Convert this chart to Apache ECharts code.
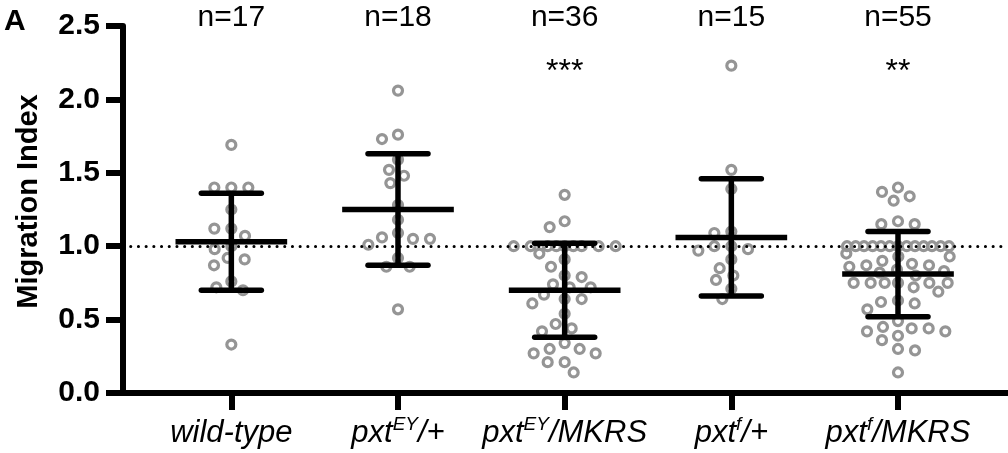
<!DOCTYPE html>
<html>
<head>
<meta charset="utf-8">
<title>Migration Index</title>
<script src="https://cdn.jsdelivr.net/npm/echarts@6/dist/echarts.min.js"></script>
<style>
  html, body { margin: 0; padding: 0; background: #fff; }
  #main { width: 1008px; height: 453px; }
</style>
</head>
<body>
<div id="main"></div>
<script>
// group names, "^" marks the superscript part
var categories = ['wild-type', 'pxt^EY/+', 'pxt^EY/MKRS', 'pxt^f/+', 'pxt^f/MKRS'];
var nLabels = ['n=17', 'n=18', 'n=36', 'n=15', 'n=55'];
var stars = ['', '', '***', '', '**'];
var yTicks = [0, 0.5, 1.0, 1.5, 2.0, 2.5];

// individual migration index values
var wildType = [1.69, 1.40, 1.40, 1.40, 1.25, 1.12, 1.12, 1.07, 1.00, 0.98, 0.92, 0.91, 0.87, 0.76, 0.72, 0.70, 0.33];
var pxtEYPlus = [2.06, 1.76, 1.73, 1.59, 1.52, 1.48, 1.43, 1.28, 1.18, 1.09, 1.06, 1.05, 1.05, 1.01, 0.92, 0.86, 0.86, 0.57];
var pxtEYMKRS = [1.35, 1.17, 1.13, 1.00, 1.00, 1.00, 1.00, 1.00, 1.00, 1.00, 1.00, 1.00,
  0.95, 0.91, 0.86, 0.80, 0.79, 0.74, 0.72, 0.72, 0.67, 0.64, 0.64, 0.61, 0.54, 0.47,
  0.44, 0.42, 0.34, 0.30, 0.30, 0.27, 0.27, 0.21, 0.21, 0.14];
var pxtfPlus = [2.23, 1.52, 1.39, 1.10, 1.09, 1.00, 1.00, 0.98, 0.97, 0.91, 0.85, 0.80, 0.77, 0.71, 0.64];
var pxtfMKRS = [1.40, 1.37, 1.34, 1.31, 1.17, 1.15, 1.15,
  1.00, 1.00, 1.00, 1.00, 1.00, 1.00, 1.00, 1.00, 1.00, 1.00, 1.00, 1.00, 1.00,
  0.95, 0.93, 0.93, 0.90, 0.88, 0.87, 0.87, 0.86, 0.84, 0.83, 0.82, 0.80,
  0.75, 0.75, 0.75, 0.75, 0.75, 0.75, 0.72, 0.69, 0.63, 0.62, 0.61, 0.57,
  0.49, 0.45, 0.44, 0.44, 0.42, 0.42, 0.39, 0.36, 0.30, 0.29, 0.14];

// mean and SD bars as drawn
var means = [1.03, 1.25, 0.70, 1.06, 0.81];
var sds = [0.33, 0.38, 0.32, 0.40, 0.29];

var groups = [wildType, pxtEYPlus, pxtEYMKRS, pxtfPlus, pxtfMKRS];

var FONT = '"Liberation Sans", Arial, Helvetica, sans-serif';
var GREY = '#959595';

// beeswarm spread (x in category units, y in value units)
var SPREAD_X = 0.102;
var SPREAD_Y = 0.082;
var MAX_HALF = 0.31;
var STEP = 0.002;

/**
 * place the points of one column side by side, nearest to the centre first
 */
function swarm(values, center) {
  var order = values.map(function (v, i) { return i; });
  order.sort(function (a, b) { return values[b] - values[a]; });
  var placed = [];
  var steps = Math.round(MAX_HALF / STEP);
  order.forEach(function (idx) {
    var v = values[idx];
    var best = 0, bestCost = Infinity;
    for (var k = 0; k <= 2 * steps; k++) {
      var off = (k % 2 ? -1 : 1) * Math.ceil(k / 2) * STEP;
      var cost = 0;
      for (var j = 0; j < placed.length; j++) {
        var dx = (off - placed[j][0]) / SPREAD_X;
        var dy = (v - placed[j][1]) / SPREAD_Y;
        var r = Math.sqrt(dx * dx + dy * dy);
        if (r < 0.999) cost += (1 - r) * (1 - r);
      }
      if (cost < bestCost - 1e-9) { bestCost = cost; best = off; }
      if (cost === 0) break;
    }
    placed.push([best, v]);
  });
  return placed.map(function (p) { return [center + p[0], p[1]]; });
}

var points = [];
groups.forEach(function (g, i) {
  points = points.concat(swarm(g, i + 1));
});

var barData = means.map(function (m, i) { return [i + 1, m, sds[i]]; });

function catLabel(v) {
  var s = categories[Math.round(v) - 1];
  if (!s) return '';
  var parts = s.split(/\^(\w+)/);
  return parts.map(function (p, i) {
    if (!p) return '';
    return '{' + (i % 2 ? 'sup' : 'it') + '|' + p + '}';
  }).join('');
}

function line(x1, y1, x2, y2, cap) {
  return {
    type: 'line',
    shape: { x1: x1, y1: y1, x2: x2, y2: y2 },
    style: { stroke: '#000', lineWidth: 5.5, lineCap: cap || 'butt' }
  };
}

var chart = echarts.init(document.getElementById('main'), null, { renderer: 'canvas' });

var option = {
  animation: false,
  backgroundColor: '#fff',
  textStyle: { fontFamily: FONT },
  grid: { left: 123, right: 0, top: 26, bottom: 60, containLabel: false },
  graphic: [{
    type: 'text',
    left: 4,
    top: 7,
    style: { text: 'A', fontSize: 30, fontWeight: 'bold', fontFamily: FONT, fill: '#000' }
  }],
  xAxis: {
    type: 'value',
    min: 0.35,
    max: 5.66,
    splitLine: { show: false },
    axisLine: { show: true, onZero: false, lineStyle: { color: '#000', width: 6 } },
    axisTick: { show: true, length: 17, customValues: [1, 2, 3, 4, 5], lineStyle: { color: '#000', width: 6 } },
    axisLabel: {
      customValues: [1, 2, 3, 4, 5],
      margin: 22,
      formatter: catLabel,
      rich: {
        it: { fontSize: 31, fontStyle: 'italic', fontFamily: FONT, color: '#000', lineHeight: 36 },
        sup: { fontSize: 19, fontStyle: 'italic', fontFamily: FONT, color: '#000', lineHeight: 20, verticalAlign: 'top' }
      }
    }
  },
  yAxis: {
    type: 'value',
    min: yTicks[0],
    max: yTicks[yTicks.length - 1],
    interval: yTicks[1] - yTicks[0],
    name: 'Migration Index',
    nameLocation: 'middle',
    nameGap: 80,
    nameTextStyle: { fontSize: 29, fontWeight: 'bold', fontFamily: FONT, color: '#000', padding: [0, 0, 0, 16] },
    splitLine: { show: false },
    axisLine: { show: true, lineStyle: { color: '#000', width: 6 } },
    axisTick: { show: true, length: 17, lineStyle: { color: '#000', width: 6 } },
    axisLabel: {
      margin: 23,
      fontSize: 30,
      fontWeight: 'bold',
      fontFamily: FONT,
      color: '#000',
      formatter: function (v) { return v.toFixed(1); }
    }
  },
  series: [
    {
      name: 'points',
      type: 'scatter',
      data: points,
      symbol: 'circle',
      symbolSize: 9,
      itemStyle: { color: 'rgba(0,0,0,0)', borderColor: GREY, borderWidth: 3.2, opacity: 1 },
      emphasis: { disabled: true },
      silent: true,
      z: 2,
      markLine: {
        silent: true,
        symbol: 'none',
        label: { show: false },
        lineStyle: { color: '#000', width: 3, type: [0.1, 7.6], cap: 'round' },
        data: [{ yAxis: 1 }]
      }
    },
    {
      name: 'mean sd',
      type: 'custom',
      data: barData,
      z: 4,
      silent: true,
      renderItem: function (params, api) {
        var x = api.value(0), m = api.value(1), s = api.value(2);
        var c = api.coord([x, m]);
        var hi = api.coord([x, m + s]);
        var lo = api.coord([x, m - s]);
        var meanHalf = api.size([0.335, 0])[0];
        var capHalf = api.size([0.18, 0])[0];
        return {
          type: 'group',
          children: [
            line(hi[0], hi[1], lo[0], lo[1]),
            line(c[0] - meanHalf, c[1], c[0] + meanHalf, c[1]),
            line(hi[0] - capHalf, hi[1], hi[0] + capHalf, hi[1], 'round'),
            line(lo[0] - capHalf, lo[1], lo[0] + capHalf, lo[1], 'round')
          ]
        };
      }
    },
    {
      name: 'labels',
      type: 'custom',
      data: categories.map(function (c, i) { return [i + 1]; }),
      z: 5,
      silent: true,
      renderItem: function (params, api) {
        var i = params.dataIndex;
        var top = api.coord([api.value(0), yTicks[yTicks.length - 1]]);
        return {
          type: 'group',
          children: [
            {
              type: 'text',
              x: top[0],
              y: top[1] - 8,
              style: { text: nLabels[i], fontSize: 30, fontFamily: FONT, fill: '#000', align: 'center', verticalAlign: 'middle' }
            },
            {
              type: 'text',
              x: top[0],
              y: top[1] + 46,
              style: { text: stars[i], fontSize: 32, fontFamily: FONT, fill: '#000', align: 'center', verticalAlign: 'middle' }
            }
          ]
        };
      }
    }
  ]
};

chart.setOption(option);
</script>
</body>
</html>
